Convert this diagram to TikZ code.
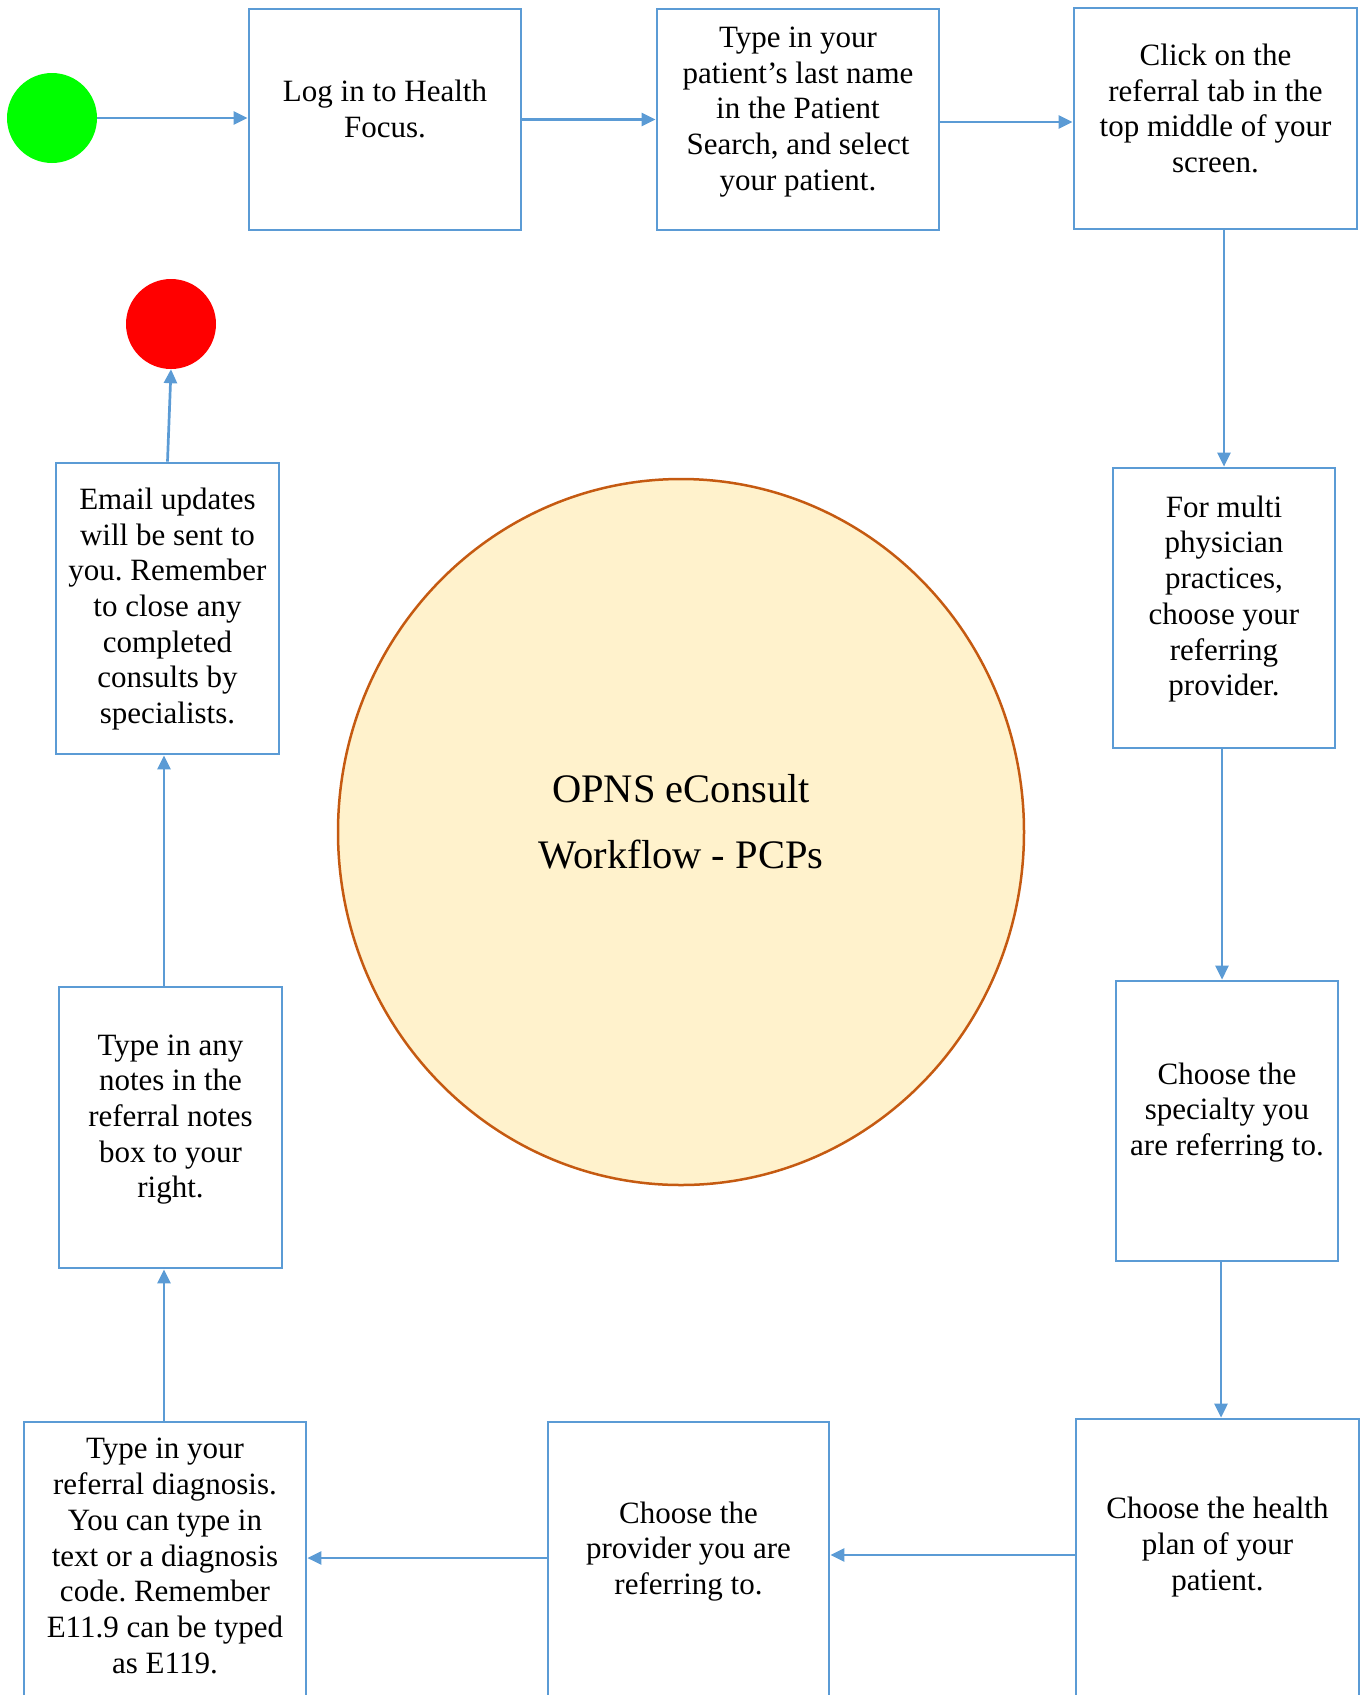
\documentclass[tikz,border=0pt]{standalone}
\usepackage{fontspec}
\setmainfont{Liberation Serif}
\usetikzlibrary{arrows.meta,shapes.geometric}
\frenchspacing

\definecolor{boxblue}{RGB}{91,155,213}
\definecolor{hubfill}{RGB}{255,242,204}
\definecolor{hubline}{RGB}{197,90,17}

\tikzset{
    stepbox/.style={draw=boxblue, line width=2.7pt, rectangle, inner sep=0pt},
    steptext/.style={align=center, inner sep=0pt, font=\fontsize{31}{35.7}\selectfont},
    flow/.style={draw=boxblue, line width=2.7pt, -{Triangle[length=14pt,width=13pt]}}
}

\begin{document}
\begin{tikzpicture}[x=1pt, y=-1pt]
    % Page: 1364 x 1695, y runs downwards
    \useasboundingbox (0,0) rectangle (1364,1695);

    % Start and stop dots
    \node[circle, fill=green, minimum size=90pt, inner sep=0pt] (start) at (52,118) {};
    \node[circle, fill=red, minimum size=90pt, inner sep=0pt] (stop) at (171,324) {};

    % Centre hub
    \node[ellipse, draw=hubline, fill=hubfill, line width=2.5pt,
          minimum width=686pt, minimum height=706pt] (hub) at (681,832) {};
    \node[align=center, inner sep=0pt, font=\fontsize{40.5}{66}\selectfont]
        (title) at (681,822) {OPNS eConsult\\Workflow - PCPs};

    % Top row
    \node[stepbox, minimum width=272pt, minimum height=221pt] (login) at (385,119.5) {};
    \node[steptext] (login-t) at (385,109) {Log in to Health\\Focus.};
    \node[stepbox, minimum width=282pt, minimum height=221pt] (search) at (798,119.5) {};
    \node[steptext] (search-t) at (798,112) {Type in your\\patient’s last name\\in the Patient\\Search, and select\\your patient.};
    \node[stepbox, minimum width=283pt, minimum height=221pt] (tab) at (1215.5,118.5) {};
    \node[steptext] (tab-t) at (1215.5,108.5) {Click on the\\referral tab in the\\top middle of your\\screen.};

    % Right column
    \node[stepbox, minimum width=222pt, minimum height=280pt] (provider) at (1224,608) {};
    \node[steptext] (provider-t) at (1224,599) {For multi\\physician\\practices,\\choose your\\referring\\provider.};
    \node[stepbox, minimum width=222pt, minimum height=280pt] (specialty) at (1227,1121) {};
    \node[steptext] (specialty-t) at (1227,1112.5) {Choose the\\specialty you\\are referring to.};

    % Bottom row (boxes run off the page)
    \node[stepbox, minimum width=283pt, minimum height=285pt] (plan) at (1217.5,1561.5) {};
    \node[steptext] (plan-t) at (1217.5,1547) {Choose the health\\plan of your\\patient.};
    \node[stepbox, minimum width=281pt, minimum height=285pt] (choose) at (688.5,1564.5) {};
    \node[steptext] (choose-t) at (688.5,1551.5) {Choose the\\provider you are\\referring to.};
    \node[stepbox, minimum width=282pt, minimum height=285pt] (diag) at (165,1564.5) {};
    \node[steptext] (diag-t) at (165,1556) {Type in your\\referral diagnosis.\\You can type in\\text or a diagnosis\\code. Remember\\E11.9 can be typed\\as E119.};

    % Left column
    \node[stepbox, minimum width=223pt, minimum height=281pt] (notes) at (170.5,1127.5) {};
    \node[steptext] (notes-t) at (170.5,1119.5) {Type in any\\notes in the\\referral notes\\box to your\\right.};
    \node[stepbox, minimum width=223pt, minimum height=291pt] (email) at (167.5,608.5) {};
    \node[steptext] (email-t) at (167.5,609) {Email updates\\will be sent to\\you. Remember\\to close any\\completed\\consults by\\specialists.};

    % Arrows
    \draw[flow] (start.east) -- (start.east -| login.west);
    \draw[flow] (login.east) -- (search.west);
    \draw[flow] ([yshift=-2.5]search.east) -- ([yshift=-2.5]search.east -| tab.west);
    \draw[flow] (tab.south -| provider.north) -- (provider.north);
    \draw[flow] ([xshift=-2]provider.south) -- ([xshift=-2]provider.south |- specialty.north);
    \draw[flow] ([xshift=-6]specialty.south) -- ([xshift=-6]specialty.south |- plan.north);
    \draw[flow] ([yshift=6.5]plan.west) -- ([yshift=6.5]plan.west -| choose.east);
    \draw[flow] ([yshift=6.5]choose.west) -- ([yshift=6.5]choose.west -| diag.east);
    \draw[flow] ([xshift=-1]diag.north) -- ([xshift=-1]diag.north |- notes.south);
    \draw[flow] ([xshift=-6.5]notes.north) -- ([xshift=-6.5]notes.north |- email.south);
    \draw[flow] (email.north) -- (stop.south);
\end{tikzpicture}
\end{document}
